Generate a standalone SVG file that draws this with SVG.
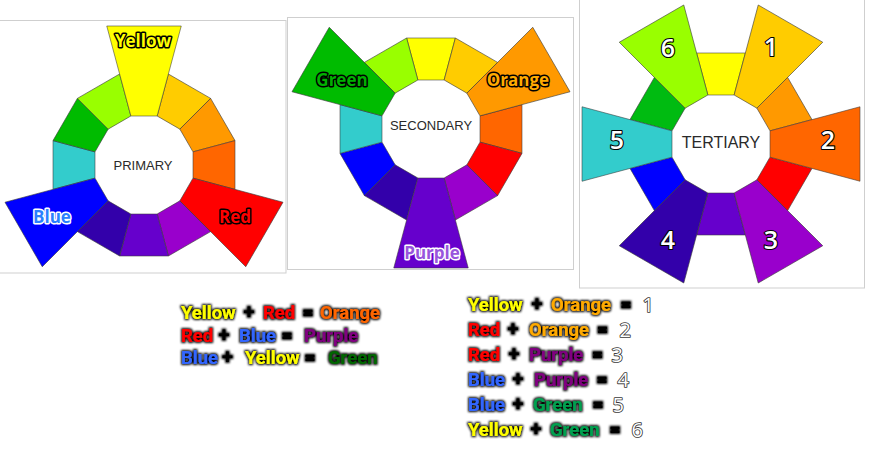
<svg xmlns="http://www.w3.org/2000/svg" width="875" height="456" viewBox="0 0 875 456">
<style>
.panel{fill:#fff;stroke:#cfcfcf;stroke-width:1}
.wheel{stroke:#3a3a3a;stroke-width:0.7;stroke-linejoin:round;stroke-opacity:0.8}
.center{font-family:"Liberation Sans",Arial,sans-serif;fill:#2a2a2a;text-anchor:middle}
.lbl{font-family:"Open Sans","DejaVu Sans",sans-serif;font-weight:700;font-size:17px;text-anchor:middle;paint-order:stroke;stroke-linejoin:round;stroke-width:3}
.dark{stroke:#000}
.light{stroke:#fff}
.num{font-family:"Open Sans","DejaVu Sans",sans-serif;font-weight:600;font-size:25px;text-anchor:middle;fill:#fff;stroke:#000;stroke-width:2.2;paint-order:stroke;stroke-linejoin:round}
.eq{font-family:Roboto,"Open Sans",sans-serif;font-weight:700;font-size:18.5px;filter:url(#glow)}
.op{fill:#000;text-anchor:middle;font-size:20px}
.n{font-family:"Open Sans","DejaVu Sans",sans-serif;font-weight:400;font-size:20px;text-anchor:end;fill:#fff;stroke:#3a3a3a;stroke-width:1.7;paint-order:stroke;stroke-linejoin:round}
</style>
<defs>
<path id="s" d="M-13.13,-49 L13.13,-49 L24.38,-91 L-24.38,-91 Z"/>
<path id="x" d="M-13.13,-49 L13.13,-49 L37.25,-139 L-37.25,-139 Z"/>
<filter id="glow" x="-5%" y="-40%" width="110%" height="180%">
<feMorphology in="SourceAlpha" operator="dilate" radius="1.3" result="d"/>
<feGaussianBlur in="d" stdDeviation="0.9" result="b"/>
<feMerge><feMergeNode in="b"/><feMergeNode in="SourceGraphic"/></feMerge>
</filter>
</defs>
<rect width="875" height="456" fill="#fff"/>

<g id="primary">
<rect class="panel" x="-1" y="20.5" width="287" height="252.5"/>
<g class="wheel" transform="translate(144,165)">
<use href="#s" fill="#ffcc00" transform="rotate(30)"/>
<use href="#s" fill="#ff9900" transform="rotate(60)"/>
<use href="#s" fill="#ff6600" transform="rotate(90)"/>
<use href="#s" fill="#9900cc" transform="rotate(150)"/>
<use href="#s" fill="#6600cc" transform="rotate(180)"/>
<use href="#s" fill="#3300aa" transform="rotate(210)"/>
<use href="#s" fill="#33cccc" transform="rotate(270)"/>
<use href="#s" fill="#00bb00" transform="rotate(300)"/>
<use href="#s" fill="#99ff00" transform="rotate(330)"/>
<use href="#x" fill="#ffff00"/>
<use href="#x" fill="#ff0000" transform="rotate(120)"/>
<use href="#x" fill="#0000ff" transform="rotate(240)"/>
</g>
<text class="center" x="143" y="170" font-size="13">PRIMARY</text>
<text class="lbl dark" x="143" y="47" fill="#ffff00">Yellow</text>
<text class="lbl dark" x="235" y="223" fill="#ff0000">Red</text>
<text class="lbl light" x="52" y="223" fill="#2a80ff">Blue</text>
</g>

<g id="secondary">
<rect class="panel" x="287.5" y="17.5" width="286" height="252"/>
<g class="wheel" transform="translate(431,129)">
<use href="#s" fill="#ffff00"/>
<use href="#s" fill="#ffcc00" transform="rotate(30)"/>
<use href="#s" fill="#ff6600" transform="rotate(90)"/>
<use href="#s" fill="#ff0000" transform="rotate(120)"/>
<use href="#s" fill="#9900cc" transform="rotate(150)"/>
<use href="#s" fill="#3300aa" transform="rotate(210)"/>
<use href="#s" fill="#0000ff" transform="rotate(240)"/>
<use href="#s" fill="#33cccc" transform="rotate(270)"/>
<use href="#s" fill="#99ff00" transform="rotate(330)"/>
<use href="#x" fill="#ff9900" transform="rotate(60)"/>
<use href="#x" fill="#6600cc" transform="rotate(180)"/>
<use href="#x" fill="#00bb00" transform="rotate(300)"/>
</g>
<text class="center" x="431" y="130" font-size="13">SECONDARY</text>
<text class="lbl dark" x="342" y="86" fill="#00b000">Green</text>
<text class="lbl dark" x="518" y="86" fill="#ffaa00">Orange</text>
<text class="lbl light" x="432" y="259" fill="#9955dd">Purple</text>
</g>

<g id="tertiary">
<rect class="panel" x="579.5" y="-1" width="285" height="289"/>
<g class="wheel" transform="translate(721,144)">
<use href="#s" fill="#ffff00"/>
<use href="#s" fill="#ff9900" transform="rotate(60)"/>
<use href="#s" fill="#ff0000" transform="rotate(120)"/>
<use href="#s" fill="#6600cc" transform="rotate(180)"/>
<use href="#s" fill="#0000ff" transform="rotate(240)"/>
<use href="#s" fill="#00bb11" transform="rotate(300)"/>
<use href="#x" fill="#ffcc00" transform="rotate(30)"/>
<use href="#x" fill="#ff6600" transform="rotate(90)"/>
<use href="#x" fill="#9900cc" transform="rotate(150)"/>
<use href="#x" fill="#3300aa" transform="rotate(210)"/>
<use href="#x" fill="#33cccc" transform="rotate(270)"/>
<use href="#x" fill="#99ff00" transform="rotate(330)"/>
</g>
<text class="center" x="721" y="148" font-size="16">TERTIARY</text>
<text class="num" x="771" y="56">1</text>
<text class="num" x="828" y="149">2</text>
<text class="num" x="771" y="249">3</text>
<text class="num" x="668" y="249">4</text>
<text class="num" x="617" y="149">5</text>
<text class="num" x="668" y="57">6</text>
</g>

<g id="primary-mixes">
<text class="eq" y="319"><tspan x="181" fill="#ffff00">Yellow</tspan><tspan class="op" x="249">+</tspan><tspan x="263" fill="#ff0000">Red</tspan><tspan class="op" x="308">=</tspan><tspan x="320" fill="#ff6600">Orange</tspan></text>
<text class="eq" y="342"><tspan x="181" fill="#ff0000">Red</tspan><tspan class="op" x="224">+</tspan><tspan x="239" fill="#3366ff">Blue</tspan><tspan class="op" x="287">=</tspan><tspan x="304" fill="#800080">Purple</tspan></text>
<text class="eq" y="364"><tspan x="181" fill="#3366ff">Blue</tspan><tspan class="op" x="227.5">+</tspan><tspan x="245" fill="#ffff00">Yellow</tspan><tspan class="op" x="310">=</tspan><tspan x="328" fill="#006600">Green</tspan></text>
</g>

<g id="tertiary-mixes">
<text class="eq" y="311"><tspan x="468" fill="#ffff00">Yellow</tspan><tspan class="op" x="537">+</tspan><tspan x="551" fill="#ffaa00">Orange</tspan><tspan class="op" x="626">=</tspan></text>
<text class="n" x="654" y="312">1</text>
<text class="eq" y="336"><tspan x="468" fill="#ff0000">Red</tspan><tspan class="op" x="513">+</tspan><tspan x="529" fill="#ffaa00">Orange</tspan><tspan class="op" x="602.5">=</tspan></text>
<text class="n" x="631" y="337">2</text>
<text class="eq" y="361"><tspan x="468" fill="#ff0000">Red</tspan><tspan class="op" x="514">+</tspan><tspan x="529" fill="#800080">Purple</tspan><tspan class="op" x="597.5">=</tspan></text>
<text class="n" x="623" y="362">3</text>
<text class="eq" y="386"><tspan x="468" fill="#3366ff">Blue</tspan><tspan class="op" x="518">+</tspan><tspan x="534" fill="#800080">Purple</tspan><tspan class="op" x="602">=</tspan></text>
<text class="n" x="629" y="387">4</text>
<text class="eq" y="411"><tspan x="468" fill="#3366ff">Blue</tspan><tspan class="op" x="518">+</tspan><tspan x="533" fill="#00a050">Green</tspan><tspan class="op" x="598">=</tspan></text>
<text class="n" x="624" y="412">5</text>
<text class="eq" y="436"><tspan x="468" fill="#ffff00">Yellow</tspan><tspan class="op" x="536">+</tspan><tspan x="550" fill="#00a050">Green</tspan><tspan class="op" x="615">=</tspan></text>
<text class="n" x="643" y="437">6</text>
</g>
</svg>
